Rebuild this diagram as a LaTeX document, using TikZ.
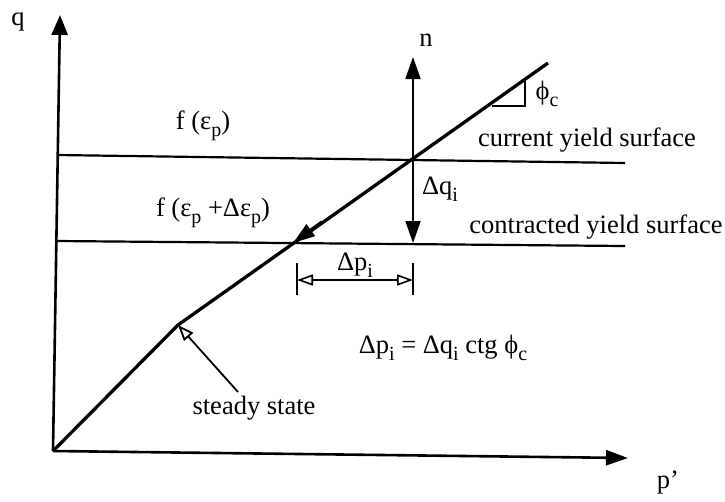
\documentclass[tikz,border=0pt]{standalone}
\usepackage{fontspec}
\setmainfont{Liberation Serif}
\usetikzlibrary{arrows.meta}
\newcommand\sbs[1]{\raisebox{-0.28em}{\fontsize{20}{22}\selectfont #1}}
\begin{document}
\begin{tikzpicture}[x=1pt,y=-1pt,
  lbl/.style={inner sep=0pt,font=\fontsize{26.5}{30}\selectfont},
  axis/.style={line width=2.6pt,-{Triangle[length=20pt,width=16pt]}},
  ysurf/.style={line width=2.2pt},
  slope/.style={line width=3.3pt},
  thin/.style={line width=1.8pt},
  openarr/.style={line width=1.8pt,-{Triangle[open,length=16pt,width=12pt,fill=white]}}]
\useasboundingbox (0,0) rectangle (725,501);
% key points
\coordinate (O) at (53,451);
\coordinate (qtip) at (60,15);
\coordinate (ptip) at (628,458);
\coordinate (S) at (178,325);
\coordinate (T) at (548,63);
\coordinate (C1) at (57,155);
\coordinate (C2) at (625,163);
\coordinate (D1) at (57,241);
\coordinate (D2) at (625,246);
\coordinate (X1) at (413,158);
\coordinate (X2) at (293,243);
\coordinate (ntop) at (413,57);
\coordinate (nbot) at (413,243);
\coordinate (A0) at (322,222);
\coordinate (tri1) at (492,106);
\coordinate (tri2) at (525,106);
\coordinate (tri3) at (525,78);
\coordinate (L1) at (297,263);
\coordinate (L2) at (297,295);
\coordinate (R1) at (413,263);
\coordinate (R2) at (413,295);
\coordinate (La) at (297,280);
\coordinate (Ra) at (413,280);
\coordinate (Sf) at (238,392);
% axes
\draw[axis] (O) -- (qtip);
\draw[line width=2.6pt,-{Triangle[length=22pt,width=15pt]}] (O) -- (ptip);
% yield surfaces
\draw[ysurf] (C1) -- (C2);
\draw[ysurf] (D1) -- (D2);
% slope line
\draw[slope,line join=round] (O) -- (S) -- (T);
\draw[line width=1.5pt] (tri1) -- (tri2) -- (tri3);
% normal arrow
\draw[thin,{Triangle[length=22pt,width=15pt]}-{Triangle[length=22pt,width=15pt]}] (ntop) -- (nbot);
% arrow on slope
\draw[line width=3.3pt,-{Triangle[length=22pt,width=14pt]}] (A0) -- (X2);
% dimension
\draw[line width=1.6pt] (L1) -- (L2);
\draw[line width=1.6pt] (R1) -- (R2);
\draw[line width=1.6pt,{Triangle[open,length=16pt,width=11pt,fill=white]}-{Triangle[open,length=16pt,width=11pt,fill=white]}] (La) -- (Ra);
% steady state
\draw[openarr] (Sf) -- (S);
% labels
\node[lbl] (q) at (18,22) {q};
\node[lbl] (p) at (668,483) {p'};
\node[lbl] (n) at (426,40) {n};
\node[lbl] (phic) at (547,94) {ϕ\sbs{c}};
\node[lbl] (f1) at (203,126) {f (ε\sbs{p})};
\node[lbl] (f2) at (213,213) {f (ε\sbs{p} +Δε\sbs{p})};
\node[lbl] (cur) at (587,140) {current yield surface};
\node[lbl] (con) at (596,227) {contracted yield surface};
\node[lbl] (dq) at (440,189) {Δq\sbs{i}};
\node[lbl] (dp) at (355,265) {Δp\sbs{i}};
\node[lbl] (form) at (443,348) {Δp\sbs{i} = Δq\sbs{i} ctg ϕ\sbs{c}};
\node[lbl] (ss) at (254,408) {steady state};
\end{tikzpicture}
\end{document}
